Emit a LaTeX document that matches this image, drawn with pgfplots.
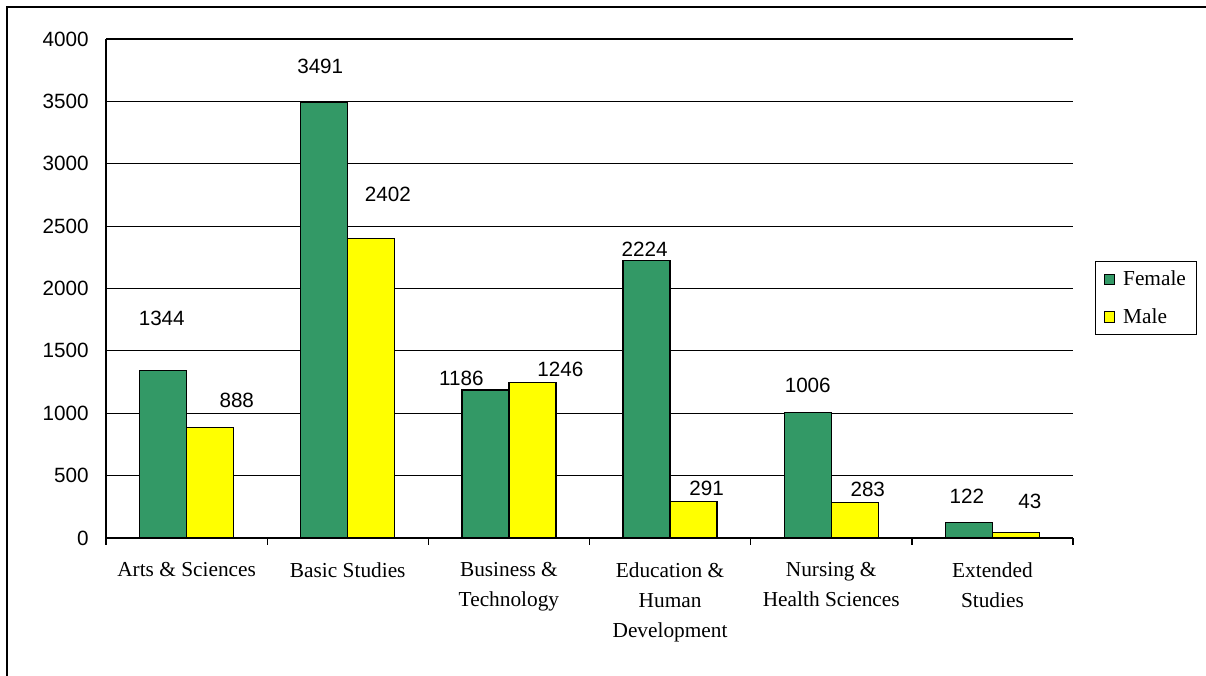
\documentclass[border=0pt]{standalone}
\usepackage{fontspec}
\setmainfont{Liberation Serif}
\newfontfamily\numfont{Liberation Sans}
\usepackage{pgfplots}
\pgfplotsset{compat=1.18}
\usepackage{pgfplotstable}
\definecolor{fem}{HTML}{339966}
\definecolor{mal}{HTML}{FFFF00}

\pgfplotstableread{
x y dx dy
0 1344 -1 39
1 3491 -3 27
2 1186 -18 9
3 2224 -1.5 8.25
4 1006 0 20.25
5 122 -1.5 19.5
}\female
\pgfplotstableread{
x y dx dy
0 888 20 20
1 2402 12.4 33
2 1246 21 9.75
3 291 9.75 9.75
4 283 9.75 9.75
5 43 10.5 23.25
}\male

\begin{document}
\begin{tikzpicture}
\path[use as bounding box] (0,0) rectangle (904.5pt,506.25pt);
\draw[line width=1.5pt] (5.25pt,-5pt) -- (5.25pt,501pt) -- (910pt,501pt);
\begin{axis}[
  at={(79.5pt,102.75pt)}, anchor=south west,
  scale only axis, width=725.25pt, height=374.25pt,
  ybar=0pt, bar width=35.25pt,
  xmin=-0.5, xmax=5.5, ymin=0, ymax=4000,
  ytick={0,500,...,4000},
  xtick={0,...,5},
  xticklabels={{Arts \& Sciences},{Basic Studies},{Business \&\\Technology},{Education \&\\Human\\Development},{Nursing \&\\Health Sciences},{Extended\\Studies}},
  minor xtick={-0.5,0.5,...,5.5},
  tick align=outside, major tick length=0pt, minor tick length=5pt,
  every tick/.style={black, line width=1pt},
  axis x line*=bottom, axis y line*=left,
  axis line style={-, line width=1pt, black},
  ymajorgrids, major grid style={line width=0.9pt, black},
  /pgf/number format/1000 sep={},
  /pgf/number format/assume math mode=true,
  yticklabel style={font=\numfont\fontsize{15.5}{18}\selectfont, xshift=-9.5pt},
  xticklabel style={font=\fontsize{16}{22.5}\selectfont, align=center, anchor=north, yshift=-15pt},
  nodes near coords,
  nodes near coords style={font=\numfont\fontsize{15.5}{18}\selectfont, anchor=center, xshift=\dx, yshift=\dy},
  legend style={at={(1,0.555)}, anchor=north west, xshift=16.5pt, draw=black, line width=1pt,
    font=\fontsize{16}{19}\selectfont, inner xsep=6pt, inner ysep=5pt, row sep=11.5pt,
    /tikz/every odd column/.style={column sep=4pt}},
  legend cell align=left,
]
\addplot[fill=fem, draw=black, line width=1pt,
  visualization depends on={\thisrow{dx} \as \dx},
  visualization depends on={\thisrow{dy} \as \dy},
  legend image code/.code={\draw[fill=fem,draw=black,line width=0.6pt] (0pt,-4pt) rectangle (8pt,4pt);}]
  table[x=x,y=y]{\female};
\addplot[fill=mal, draw=black, line width=1pt,
  visualization depends on={\thisrow{dx} \as \dx},
  visualization depends on={\thisrow{dy} \as \dy},
  legend image code/.code={\draw[fill=mal,draw=black,line width=0.6pt] (0pt,-4pt) rectangle (8pt,4pt);}]
  table[x=x,y=y]{\male};
\legend{Female,Male}
\end{axis}
\end{tikzpicture}
\end{document}
